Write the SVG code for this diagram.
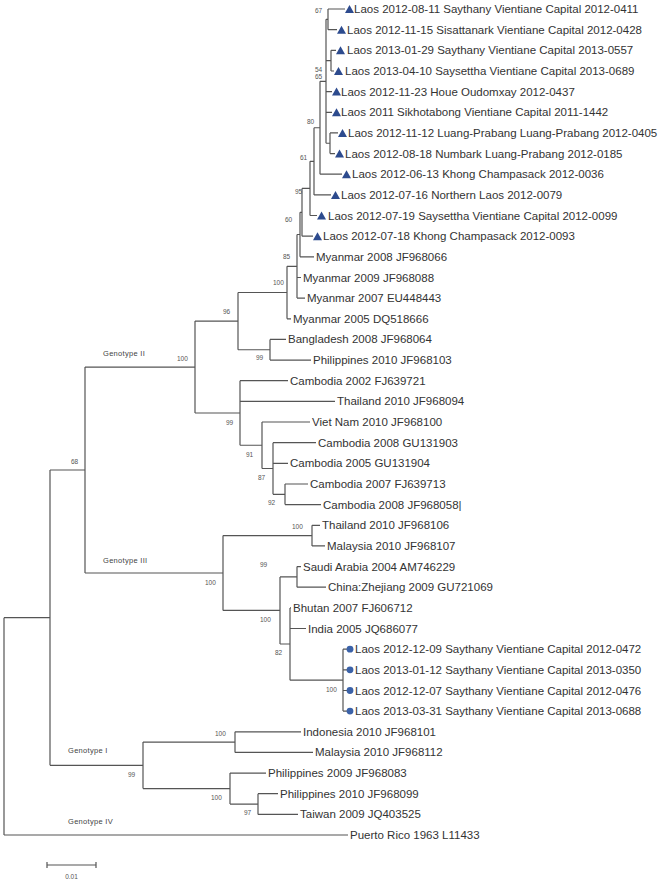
<svg xmlns="http://www.w3.org/2000/svg" width="670" height="880" viewBox="0 0 670 880">
<style>
.br{stroke:#555;stroke-width:1.2;fill:none}
text{font-family:"Liberation Sans",Arial,sans-serif;fill:#333}
.lbl{font-size:11.5px}
.bs{font-size:6.5px;fill:#555}
.gt{font-size:7.5px;fill:#444;letter-spacing:0.3px}
.tri{fill:#2d4b8e}
.dot{fill:#3b62a8}
</style>
<defs>
<path id="tri" d="M0 4 L4.5 -4 L9 4 Z"/>
</defs>
<rect width="670" height="880" fill="#fff"/>
<g id="connectors" class="br">
<path d="M328 9V29.7M328 9H345M328 29.7H337"/>
<path d="M331 50.3V71M331 50.3H336M331 71H334"/>
<path d="M330 132.9V153.6M330 132.9H338M330 153.6H335"/>
<path d="M326 19.35V143.25M326 19.35H328M326 60.65H331M326 91.6H332M326 112.3H332M326 143.25H330"/>
<path d="M320 81.3V174.2M320 81.3H326M320 174.2H342"/>
<path d="M314 127.75V194.9M314 127.75H320M314 194.9H331"/>
<path d="M310 161.3V215.5M310 161.3H314M310 215.5H317"/>
<path d="M302 188.4V236.2M302 188.4H310M302 236.2H313"/>
<path d="M300 212.3V256.8M300 212.3H302M300 256.8H314"/>
<path d="M297 234.5V298.1M297 234.5H300M297 277.5H301M297 298.1H305"/>
<path d="M287 266.3V318.8M287 266.3H297M287 318.8H291"/>
<path d="M270 339.4V360.1M270 339.4H286M270 360.1H311"/>
<path d="M238 292.5V349.75M238 292.5H287M238 349.75H270"/>
<path d="M285 484V504.6M285 484H308M285 504.6H321"/>
<path d="M273 442.7V494.3M273 442.7H316M273 463.3H288M273 494.3H285"/>
<path d="M262 422V468.5M262 422H310M262 468.5H273"/>
<path d="M240 380.7V445.25M240 380.7H288M240 401.4H335M240 445.25H262"/>
<path d="M195 321.1V413M195 321.1H238M195 413H240"/>
<path d="M312 525.3V545.9M312 525.3H320M312 545.9H325"/>
<path d="M297 566.6V587.2M297 566.6H301M297 587.2H326"/>
<path d="M343 649.2V711.1M343 649.2H347M343 669.8H347M343 690.5H347M343 711.1H347"/>
<path d="M290 607.9V680.15M290 607.9H291M290 628.5H306M290 680.15H343"/>
<path d="M280 576.9V644M280 576.9H297M280 644H290"/>
<path d="M223 535.6V610.45M223 535.6H312M223 610.45H280"/>
<path d="M85 367.05V573M85 367.05H195M85 573H223"/>
<path d="M235 731.8V752.4M235 731.8H301M235 752.4H313"/>
<path d="M258 793.7V814.4M258 793.7H278M258 814.4H298"/>
<path d="M230 773.1V804.05M230 773.1H266M230 804.05H258"/>
<path d="M143 742.1V788.6M143 742.1H235M143 788.6H230"/>
<path d="M50 470V765.35M50 470H85M50 765.35H143"/>
<path d="M4 617.7V835M4 617.7H50M4 835H348"/>
</g>
<g id="bootstrap">
<text class="bs" x="315" y="12.5">67</text>
<text class="bs" x="315" y="72">54</text>
<text class="bs" x="315" y="79">65</text>
<text class="bs" x="307" y="124">80</text>
<text class="bs" x="300" y="160">61</text>
<text class="bs" x="295" y="194">95</text>
<text class="bs" x="285" y="222">60</text>
<text class="bs" x="283" y="259">85</text>
<text class="bs" x="273" y="285">100</text>
<text class="bs" x="223" y="314">96</text>
<text class="bs" x="256" y="360">99</text>
<text class="bs" x="177" y="361">100</text>
<text class="bs" x="226" y="425">99</text>
<text class="bs" x="246" y="457">91</text>
<text class="bs" x="258" y="480">87</text>
<text class="bs" x="268" y="505">92</text>
<text class="bs" x="71" y="464">68</text>
<text class="bs" x="205" y="585">100</text>
<text class="bs" x="292" y="529">100</text>
<text class="bs" x="260" y="622">100</text>
<text class="bs" x="260" y="567">99</text>
<text class="bs" x="275" y="655">82</text>
<text class="bs" x="326" y="692">100</text>
<text class="bs" x="215" y="736">100</text>
<text class="bs" x="128" y="777">99</text>
<text class="bs" x="211" y="800">100</text>
<text class="bs" x="244" y="815">97</text>
</g>
<g id="genotypes">
<text class="gt" x="103" y="356">Genotype II</text>
<text class="gt" x="103" y="563">Genotype III</text>
<text class="gt" x="68" y="753">Genotype I</text>
<text class="gt" x="68" y="824">Genotype IV</text>
</g>
<g id="leaf1"><use href="#tri" class="tri" x="345" y="9"/><text class="lbl" x="354" y="13">Laos 2012-08-11 Saythany Vientiane Capital 2012-0411</text></g>
<g id="leaf2"><use href="#tri" class="tri" x="337" y="29.7"/><text class="lbl" x="347" y="33.7">Laos 2012-11-15 Sisattanark Vientiane Capital 2012-0428</text></g>
<g id="leaf3"><use href="#tri" class="tri" x="336" y="50.3"/><text class="lbl" x="347" y="54.3">Laos 2013-01-29 Saythany Vientiane Capital 2013-0557</text></g>
<g id="leaf4"><use href="#tri" class="tri" x="334" y="71"/><text class="lbl" x="345" y="75">Laos 2013-04-10 Saysettha Vientiane Capital 2013-0689</text></g>
<g id="leaf5"><use href="#tri" class="tri" x="332" y="91.6"/><text class="lbl" x="341" y="95.6">Laos 2012-11-23 Houe Oudomxay 2012-0437</text></g>
<g id="leaf6"><use href="#tri" class="tri" x="332" y="112.3"/><text class="lbl" x="341" y="116.3">Laos 2011 Sikhotabong Vientiane Capital 2011-1442</text></g>
<g id="leaf7"><use href="#tri" class="tri" x="338" y="132.9"/><text class="lbl" x="348" y="136.9">Laos 2012-11-12 Luang-Prabang Luang-Prabang 2012-0405</text></g>
<g id="leaf8"><use href="#tri" class="tri" x="335" y="153.6"/><text class="lbl" x="345" y="157.6">Laos 2012-08-18 Numbark Luang-Prabang 2012-0185</text></g>
<g id="leaf9"><use href="#tri" class="tri" x="342" y="174.2"/><text class="lbl" x="352" y="178.2">Laos 2012-06-13 Khong Champasack 2012-0036</text></g>
<g id="leaf10"><use href="#tri" class="tri" x="331" y="194.9"/><text class="lbl" x="341" y="198.9">Laos 2012-07-16 Northern Laos 2012-0079</text></g>
<g id="leaf11"><use href="#tri" class="tri" x="317" y="215.5"/><text class="lbl" x="328" y="219.5">Laos 2012-07-19 Saysettha Vientiane Capital 2012-0099</text></g>
<g id="leaf12"><use href="#tri" class="tri" x="313" y="236.2"/><text class="lbl" x="323" y="240.2">Laos 2012-07-18 Khong Champasack 2012-0093</text></g>
<g id="leaf13"><text class="lbl" x="316" y="260.8">Myanmar 2008 JF968066</text></g>
<g id="leaf14"><text class="lbl" x="303" y="281.5">Myanmar 2009 JF968088</text></g>
<g id="leaf15"><text class="lbl" x="307" y="302.1">Myanmar 2007 EU448443</text></g>
<g id="leaf16"><text class="lbl" x="293" y="322.8">Myanmar 2005 DQ518666</text></g>
<g id="leaf17"><text class="lbl" x="288" y="343.4">Bangladesh 2008 JF968064</text></g>
<g id="leaf18"><text class="lbl" x="313" y="364.1">Philippines 2010 JF968103</text></g>
<g id="leaf19"><text class="lbl" x="290" y="384.7">Cambodia 2002 FJ639721</text></g>
<g id="leaf20"><text class="lbl" x="337" y="405.4">Thailand 2010 JF968094</text></g>
<g id="leaf21"><text class="lbl" x="312" y="426">Viet Nam 2010 JF968100</text></g>
<g id="leaf22"><text class="lbl" x="318" y="446.7">Cambodia 2008 GU131903</text></g>
<g id="leaf23"><text class="lbl" x="290" y="467.3">Cambodia 2005 GU131904</text></g>
<g id="leaf24"><text class="lbl" x="310" y="488">Cambodia 2007 FJ639713</text></g>
<g id="leaf25"><text class="lbl" x="323" y="508.6">Cambodia 2008 JF968058|</text></g>
<g id="leaf26"><text class="lbl" x="322" y="529.3">Thailand 2010 JF968106</text></g>
<g id="leaf27"><text class="lbl" x="327" y="549.9">Malaysia 2010 JF968107</text></g>
<g id="leaf28"><text class="lbl" x="303" y="570.6">Saudi Arabia 2004 AM746229</text></g>
<g id="leaf29"><text class="lbl" x="328" y="591.2">China:Zhejiang 2009 GU721069</text></g>
<g id="leaf30"><text class="lbl" x="293" y="611.9">Bhutan 2007 FJ606712</text></g>
<g id="leaf31"><text class="lbl" x="308" y="632.5">India 2005 JQ686077</text></g>
<g id="leaf32"><circle class="dot" cx="350" cy="649.2" r="3.4"/><text class="lbl" x="355" y="653.2">Laos 2012-12-09 Saythany Vientiane Capital 2012-0472</text></g>
<g id="leaf33"><circle class="dot" cx="350" cy="669.8" r="3.4"/><text class="lbl" x="355" y="673.8">Laos 2013-01-12 Saythany Vientiane Capital 2013-0350</text></g>
<g id="leaf34"><circle class="dot" cx="350" cy="690.5" r="3.4"/><text class="lbl" x="355" y="694.5">Laos 2012-12-07 Saythany Vientiane Capital 2012-0476</text></g>
<g id="leaf35"><circle class="dot" cx="350" cy="711.1" r="3.4"/><text class="lbl" x="355" y="715.1">Laos 2013-03-31 Saythany Vientiane Capital 2013-0688</text></g>
<g id="leaf36"><text class="lbl" x="303" y="735.8">Indonesia 2010 JF968101</text></g>
<g id="leaf37"><text class="lbl" x="315" y="756.4">Malaysia 2010 JF968112</text></g>
<g id="leaf38"><text class="lbl" x="268" y="777.1">Philippines 2009 JF968083</text></g>
<g id="leaf39"><text class="lbl" x="280" y="797.7">Philippines 2010 JF968099</text></g>
<g id="leaf40"><text class="lbl" x="300" y="818.4">Taiwan 2009 JQ403525</text></g>
<g id="leaf41"><text class="lbl" x="350" y="839">Puerto Rico 1963 L11433</text></g>
<g id="scalebar">
<path class="br" d="M47 865H96M47 862V868M96 862V868"/>
<text class="bs" x="71.5" y="879" text-anchor="middle">0.01</text>
</g>
</svg>
